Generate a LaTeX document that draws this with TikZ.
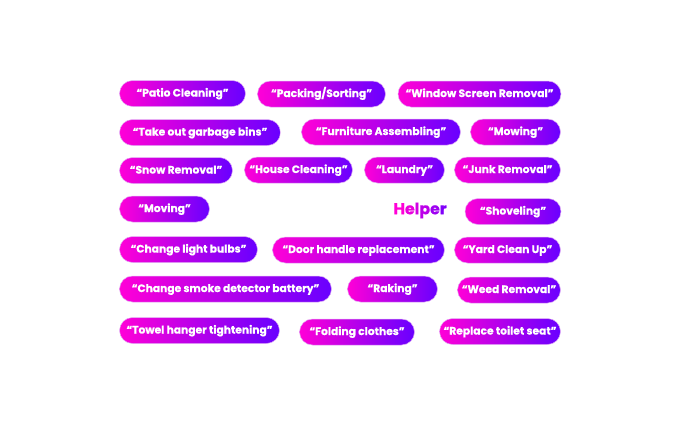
\documentclass[tikz,border=0pt]{standalone}
\usepackage{fontspec}
\usepackage{xcolor}
\setmainfont{Poppins}[BoldFeatures={FakeBold=0.6}]
\usetikzlibrary{positioning}
\definecolor{pillleft}{RGB}{255, 0, 215}
\definecolor{pillright}{RGB}{105, 0, 255}
\definecolor{pillrim}{RGB}{225, 175, 245}

\begin{document}
\begin{tikzpicture}[x=1pt, y=-1pt,
    pill/.style={rounded corners=13pt, left color=pillleft, right color=pillright, draw=pillrim, line width=0.5pt,
        minimum height=26pt, inner sep=0pt, text height=8pt, text depth=2pt, text=white, font=\bfseries\fontsize{10.7pt}{12pt}\selectfont}]

    \useasboundingbox (0, 0) rectangle (683, 426);

    % First row
    \node[pill, minimum width=126pt] (patio) at (182.5, 93.5) {“Patio Cleaning”};
    \node[pill, minimum width=128pt] (packing) at (321.5, 94) {“Packing/Sorting”};
    \node[pill, minimum width=163pt] (window) at (479.5, 94) {“Window Screen Removal”};

    % Second row
    \node[pill, minimum width=161pt] (garbage) at (200, 132.5) {“Take out garbage bins”};
    \node[pill, minimum width=159pt] (furniture) at (381, 132) {“Furniture Assembling”};
    \node[pill, minimum width=90pt] (mowing) at (515.5, 132) {“Mowing”};

    % Third row
    \node[pill, minimum width=113pt] (snow) at (176, 170.5) {“Snow Removal”};
    \node[pill, minimum width=108pt] (house) at (298.5, 170) {“House Cleaning”};
    \node[pill, minimum width=80pt] (laundry) at (404.5, 170) {“Laundry”};
    \node[pill, minimum width=106pt] (junk) at (507.5, 170) {“Junk Removal”};

    % Fourth row
    \node[pill, minimum width=90pt] (moving) at (164.5, 209) {“Moving”};
    \node[font=\bfseries\fontsize{15.8pt}{18pt}\selectfont, inner sep=0pt] (helper) at (420, 210.5)
        {\textcolor{pillleft}{H}\textcolor{pillleft!85!pillright}{e}\textcolor{pillleft!70!pillright}{l}\textcolor{pillleft!55!pillright}{p}\textcolor{pillleft!35!pillright}{e}\textcolor{pillleft!15!pillright}{r}};
    \node[pill, minimum width=96pt] (shoveling) at (513, 211.5) {“Shoveling”};

    % Fifth row
    \node[pill, minimum width=138pt] (bulbs) at (188.5, 249.5) {“Change light bulbs”};
    \node[pill, minimum width=172pt] (door) at (358.5, 250) {“Door handle replacement”};
    \node[pill, minimum width=106pt] (yard) at (507.5, 250) {“Yard Clean Up”};

    % Sixth row
    \node[pill, minimum width=212pt] (battery) at (225.5, 289) {“Change smoke detector battery”};
    \node[pill, minimum width=90pt] (raking) at (392.5, 289) {“Raking”};
    \node[pill, minimum width=103pt] (weed) at (509, 290) {“Weed Removal”};

    % Seventh row
    \node[pill, minimum width=160pt] (towel) at (199.5, 330.5) {“Towel hanger tightening”};
    \node[pill, minimum width=115pt] (folding) at (357, 332) {“Folding clothes”};
    \node[pill, minimum width=121pt] (toilet) at (500, 331.5) {“Replace toilet seat”};
\end{tikzpicture}
\end{document}
